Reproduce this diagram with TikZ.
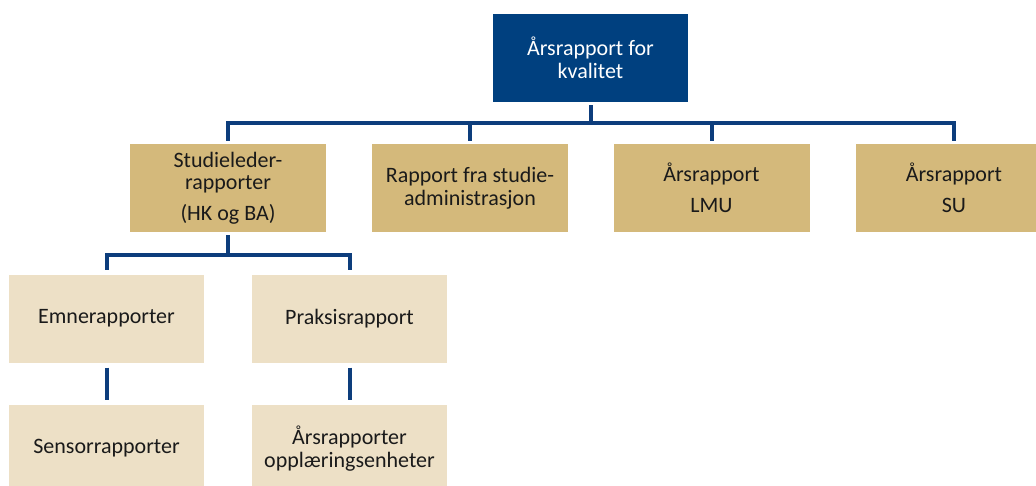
\documentclass[tikz,border=0pt]{standalone}
\usepackage{fontspec}
\setmainfont{Carlito}
\definecolor{navy}{HTML}{00407F}
\definecolor{linec}{HTML}{0D3D7C}
\definecolor{gold}{HTML}{D4B97B}
\definecolor{beige}{HTML}{EDE0C6}
\definecolor{txt}{HTML}{1A1A1A}
\begin{document}
\begin{tikzpicture}[x=1pt,y=-1pt,
  box/.style={rectangle, inner sep=0pt, minimum width=196pt, minimum height=88pt,
    align=center, font=\fontsize{22}{22.5}\selectfont, text=txt},
  topbox/.style={box, fill=navy, text=white, minimum width=195pt},
  lvltwo/.style={box, fill=gold},
  lvlthree/.style={box, fill=beige},
  conn/.style={draw=linec, line width=4pt, line join=miter,
    shorten <=3pt, shorten >=3pt}]
\useasboundingbox (0,0) rectangle (1036,485);
\clip (0,0) rectangle (1036,485);

\node[topbox] (top) at (590.5,58) {Årsrapport for\\kvalitet};

\node[lvltwo] (sl) at (228,188) {Studieleder-\\rapporter\\[8pt](HK og BA)};
\node[lvltwo] (rs) at (470,188) {Rapport fra studie-\\administrasjon};
\node[lvltwo] (lmu) at (711.5,188) {Årsrapport\\[8pt]LMU};
\node[lvltwo] (su) at (954,188) {Årsrapport\\[8pt]SU};

\node[lvlthree, minimum width=195pt] (em) at (106.5,318.5) {Emnerapporter};
\node[lvlthree, minimum width=195pt] (pr) at (349.5,318.5) {Praksisrapport};
\node[lvlthree, minimum width=195pt] (se) at (106.5,448.5) {Sensorrapporter};
\node[lvlthree, minimum width=195pt] (op) at (349.5,448.5) {Årsrapporter\\opplæringsenheter};

\coordinate (bus) at (590.5,123);
\coordinate (busb) at (228,255);

\draw[conn, shorten >=0pt] (top.south) -- (bus);
\foreach \n in {sl,rs,lmu,su}{
  \draw[conn, shorten <=0pt] (bus) -| (\n.north);
}
\draw[conn, shorten >=0pt] (sl.south) -- (busb);
\foreach \n in {em,pr}{
  \draw[conn, shorten <=0pt, shorten >=4pt] (busb) -| (\n.north);
}
\draw[conn, shorten <=5pt, shorten >=4pt] (em.south) -- (se.north);
\draw[conn, shorten <=5pt, shorten >=4pt] (pr.south) -- (op.north);
\end{tikzpicture}
\end{document}
